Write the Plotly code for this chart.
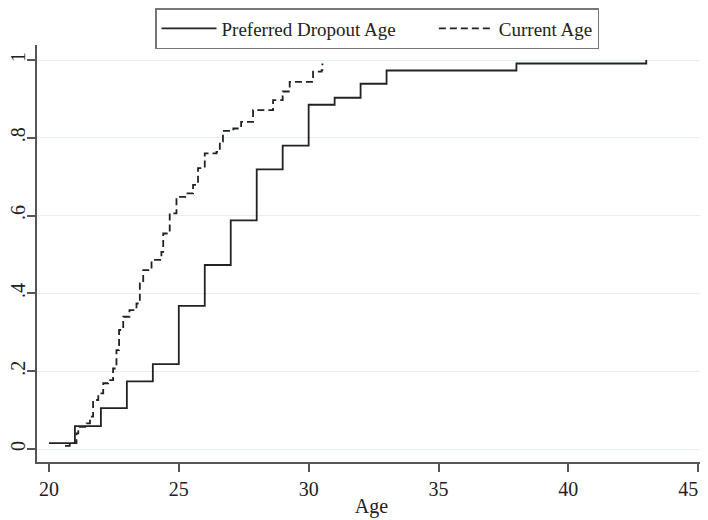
import plotly.graph_objects as go

# Preferred dropout age: empirical CDF (step)
pref_age = [20, 21, 22, 23, 24, 25, 26, 27, 28, 29, 30, 31, 32, 33, 38, 43]
pref_cdf = [0.015, 0.059, 0.105, 0.174, 0.218, 0.368, 0.473, 0.588, 0.719, 0.780,
            0.885, 0.903, 0.939, 0.973, 0.991, 1.0]

# Current age: empirical CDF (fine steps)
cur_age = [20.62, 20.8, 21.06, 21.13, 21.45, 21.58, 21.7, 21.9, 22.09, 22.28, 22.47,
           22.6, 22.7, 22.86, 23.1, 23.37, 23.5, 23.63, 23.95, 24.33, 24.4, 24.65,
           24.91, 25.3, 25.55, 25.74, 26.0, 26.45, 26.58, 26.7, 27.1, 27.4, 27.86,
           28.37, 28.63, 29.0, 29.27, 29.85, 30.17, 30.5, 30.53]
cur_cdf = [0.008, 0.015, 0.04, 0.057, 0.066, 0.083, 0.126, 0.143, 0.169, 0.177, 0.207,
           0.254, 0.306, 0.34, 0.357, 0.374, 0.426, 0.46, 0.486, 0.507, 0.554, 0.606,
           0.648, 0.657, 0.679, 0.722, 0.760, 0.764, 0.79, 0.818, 0.824, 0.841, 0.871,
           0.871, 0.897, 0.919, 0.944, 0.944, 0.97, 0.974, 0.991]

series_names = ["Preferred Dropout Age", "Current Age"]
x_ticks = [20, 25, 30, 35, 40, 45]
x_labels = ["20", "25", "30", "35", "40", "45"]
y_ticks = [0, 0.2, 0.4, 0.6, 0.8, 1]
y_labels = ["0", ".2", ".4", ".6", ".8", "1"]

FONT = "Liberation Serif, Times New Roman, serif"
W, H = 700, 512          # page body adds an 8px margin
ML, MR, MT, MB = 29, 2, 37, 58
PH = H - MT - MB
PAD = "\u00a0" * 7       # spacing between legend entries

# keep the last x label inside the visible page edge
x_text = x_labels[:-1] + [x_labels[-1] + "\u00a0" * 4]

fig = go.Figure()
fig.add_trace(go.Scatter(x=pref_age, y=pref_cdf, mode="lines", line_shape="hv",
                         name=series_names[0] + PAD,
                         line=dict(color="#222", width=1.8)))
fig.add_trace(go.Scatter(x=cur_age, y=cur_cdf, mode="lines", line_shape="hv",
                         name=series_names[1],
                         line=dict(color="#222", width=1.8, dash="7px,4px")))

fig.update_layout(
    width=W, height=H,
    margin=dict(l=ML, r=MR, t=MT, b=MB, autoexpand=False),
    paper_bgcolor="white", plot_bgcolor="white",
    font=dict(family=FONT, size=20, color="#222"),
    showlegend=True,
    legend=dict(orientation="h", x=(147 - ML) / (W - ML - MR), xanchor="left",
                y=1 + (MT - 0) / PH, yanchor="top",
                bordercolor="#777", borderwidth=1.5, bgcolor="white",
                font=dict(family=FONT, size=19, color="#222"),
                itemwidth=55),
    xaxis=dict(range=[19.54, 45.3], tickvals=x_ticks, ticktext=x_text,
               showgrid=False, zeroline=False,
               automargin=False, ticklabeloverflow="allow",
               showline=True, linecolor="#555", linewidth=1.5,
               ticks="outside", ticklen=8, tickcolor="#555", tickwidth=1.5,
               title=dict(text="Age", standoff=0, font=dict(family=FONT, size=20)),
               tickfont=dict(family=FONT, size=20)),
    yaxis=dict(range=[-0.0334, 1.0386], tickvals=y_ticks, ticktext=y_labels,
               automargin=False,
               showgrid=True, gridcolor="#e6f0f2", gridwidth=1, zeroline=False,
               showline=True, linecolor="#555", linewidth=1.5,
               ticks="outside", ticklen=8, tickcolor="#555", tickwidth=1.5,
               tickangle=-90, ticklabelstandoff=-6,
               tickfont=dict(family=FONT, size=20)),
)

fig.write_html("out.html")
